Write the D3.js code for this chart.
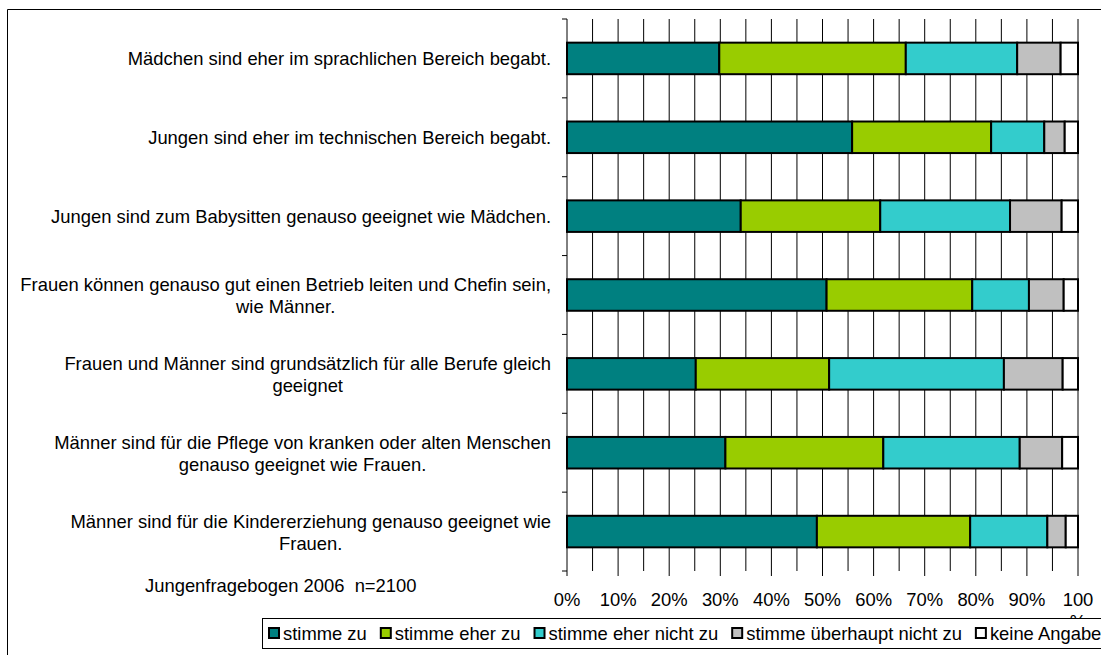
<!DOCTYPE html>
<html>
<head>
<meta charset="utf-8">
<script src="https://cdn.jsdelivr.net/npm/d3@7"></script>
<style>
  body { margin: 0; background: #fff; }
  svg { display: block; font-family: "Liberation Sans", Arial, sans-serif; }
</style>
</head>
<body>
<svg id="chart" width="1101" height="655"></svg>
<script>
"use strict";

// categories (line breaks as in the original)
const categories = [
  "Mädchen sind eher im sprachlichen Bereich begabt.",
  "Jungen sind eher im technischen Bereich begabt.",
  "Jungen sind zum Babysitten genauso geeignet wie Mädchen.",
  "Frauen können genauso gut einen Betrieb leiten und Chefin sein,\nwie Männer.",
  "Frauen und Männer sind grundsätzlich für alle Berufe gleich\ngeeignet",
  "Männer sind für die Pflege von kranken oder alten Menschen\ngenauso geeignet wie Frauen.",
  "Männer sind für die Kindererziehung genauso geeignet wie\nFrauen."
];

const series_names = ["stimme zu", "stimme eher zu", "stimme eher nicht zu", "stimme überhaupt nicht zu", "keine Angabe"];
const series_colors = ["#008080", "#99CC00", "#33CCCC", "#C0C0C0", "#FFFFFF"];

// values in percent, one entry per category
const stimme_zu          = [29.8, 55.8, 34.0, 50.8, 25.2, 31.0, 48.9];
const stimme_eher_zu     = [36.5, 27.2, 27.3, 28.5, 26.1, 30.9, 30.0];
const stimme_eher_nicht  = [21.8, 10.4, 25.4, 11.1, 34.2, 26.7, 15.1];
const stimme_ueberhaupt  = [8.5, 4.0, 10.1, 6.8, 11.5, 8.3, 3.6];
const keine_angabe       = [3.4, 2.6, 3.2, 2.8, 3.0, 3.1, 2.4];

const x_ticks = [0, 10, 20, 30, 40, 50, 60, 70, 80, 90, 100];
const grid_ticks = d3.range(0, 101, 5);
const note_text = "Jungenfragebogen 2006  n=2100";

const all_series = [stimme_zu, stimme_eher_zu, stimme_eher_nicht, stimme_ueberhaupt, keine_angabe];
const table = categories.map((c, i) => {
  const row = { cat: c };
  series_names.forEach((s, k) => row[s] = all_series[k][i]);
  return row;
});

const svg = d3.select("#chart");
const font_size = 18.4;

const chart_left = 567, chart_right = 1078, chart_top = 19, chart_bottom = 571;

const x_scale = d3.scaleLinear().domain([0, 100]).range([chart_left, chart_right]);
const y_scale = d3.scaleBand().domain(categories).range([chart_top, chart_bottom])
  .paddingInner(0.6).paddingOuter(0.3);

// outer frame (only top and left visible)
svg.append("path")
  .attr("d", "M7.5,655 L7.5,9.5 L1101,9.5")
  .attr("fill", "none").attr("stroke", "#000").attr("stroke-width", 1);

// vertical grid lines
svg.append("g").selectAll("line")
  .data(grid_ticks)
  .enter().append("line")
  .attr("x1", d => x_scale(d)).attr("x2", d => x_scale(d))
  .attr("y1", chart_top).attr("y2", chart_bottom)
  .attr("stroke", "#000").attr("stroke-width", 1);

// bottom ticks at every 10%
svg.append("g").selectAll("line")
  .data(x_ticks)
  .enter().append("line")
  .attr("x1", d => x_scale(d)).attr("x2", d => x_scale(d))
  .attr("y1", chart_bottom).attr("y2", chart_bottom + 5)
  .attr("stroke", "#000").attr("stroke-width", 1);

// y axis ticks at the band boundaries
const step = y_scale.step();
svg.append("g").selectAll("line")
  .data(d3.range(categories.length + 1))
  .enter().append("line")
  .attr("x1", chart_left - 5).attr("x2", chart_left)
  .attr("y1", d => chart_top + d * step).attr("y2", d => chart_top + d * step)
  .attr("stroke", "#000").attr("stroke-width", 1);

// stacked bars
const stack = d3.stack().keys(series_names)(table);
const layers = svg.append("g").selectAll("g")
  .data(stack)
  .enter().append("g")
  .attr("fill", (d, i) => series_colors[i]);

layers.selectAll("rect")
  .data(d => d)
  .enter().append("rect")
  .attr("x", d => x_scale(d[0]))
  .attr("y", d => y_scale(d.data.cat))
  .attr("width", d => x_scale(d[1]) - x_scale(d[0]))
  .attr("height", y_scale.bandwidth())
  .attr("stroke", "#000")
  .attr("stroke-width", 2);

// category labels, lines centered on each other, right edge near the axis
const label_right = 551;
const line_h = 22;
categories.forEach(c => {
  const lines = c.split("\n");
  const g = svg.append("g");
  const texts = lines.map((ln, i) => g.append("text")
    .attr("font-size", font_size)
    .attr("fill", "#000")
    .attr("text-anchor", "middle")
    .attr("y", y_scale(c) + y_scale.bandwidth() / 2 + (i - (lines.length - 1) / 2) * line_h + 7)
    .text(ln));
  const max_w = d3.max(texts, t => t.node().getComputedTextLength());
  texts.forEach(t => t.attr("x", label_right - max_w / 2));
});

// x tick labels
svg.append("g").selectAll("text")
  .data(x_ticks)
  .enter().append("text")
  .attr("x", d => x_scale(d))
  .attr("y", 606)
  .attr("text-anchor", "middle")
  .attr("font-size", font_size)
  .text(d => d === 100 ? "100" : d + "%");
// wrapped "%" of the last label, mostly hidden behind the legend
svg.append("text")
  .attr("x", x_scale(100)).attr("y", 628)
  .attr("text-anchor", "middle").attr("font-size", font_size)
  .text("%");

// note
svg.append("text")
  .attr("x", 145).attr("y", 592)
  .attr("font-size", font_size)
  .style("white-space", "pre")
  .text(note_text);

// legend
const legend = svg.append("g");
legend.append("rect")
  .attr("x", 262.5).attr("y", 618.5)
  .attr("width", 900).attr("height", 30)
  .attr("fill", "#fff").attr("stroke", "#000").attr("stroke-width", 1);

let lx = 269;
series_names.forEach((s, i) => {
  legend.append("rect")
    .attr("x", lx).attr("y", 628)
    .attr("width", 10).attr("height", 10)
    .attr("fill", series_colors[i])
    .attr("stroke", "#000").attr("stroke-width", 2);
  const t = legend.append("text")
    .attr("x", lx + 14).attr("y", 640)
    .attr("font-size", font_size)
    .text(s);
  lx += 14 + t.node().getComputedTextLength() + 14;
});
</script>
</body>
</html>
